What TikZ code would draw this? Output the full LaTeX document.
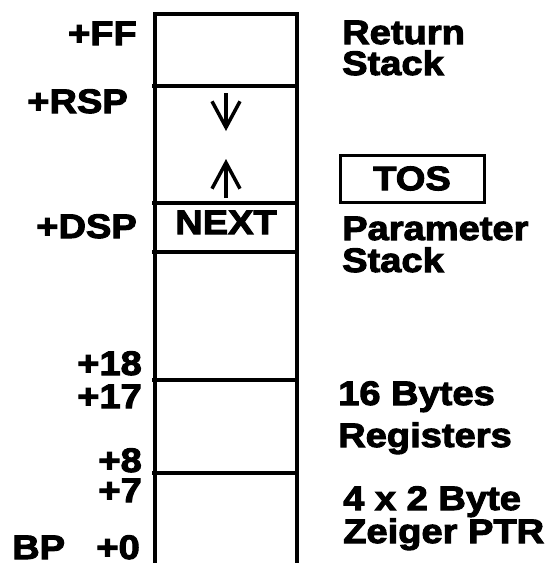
\documentclass[tikz,border=0pt]{standalone}
\usepackage{fontspec}
\newfontfamily\memfont{Liberation Sans}[FakeStretch=1.12,FakeBold=3]
\usetikzlibrary{arrows.meta}

\begin{document}
\begin{tikzpicture}[x=1pt,y=-1pt,
		lbl/.style={font=\memfont\bfseries\fontsize{34}{32}\selectfont,inner sep=0pt},
		frame/.style={line width=4pt},
		arr/.style={line width=3.5pt,-{Straight Barb[length=26pt,width=28pt,line width=3.5pt]}}]
	\useasboundingbox (0,0) rectangle (555,563);
	% memory column
	\draw[frame,line join=miter] (155,563) -- (155,14) -- (297,14) -- (297,563);
	\foreach \y in {86,203,252,380,473}{
		\draw[frame] (152,\y) -- (299,\y);}
	% offsets on the left
	\foreach \t/\x/\y/\n in {+FF/137/45/ff,+RSP/128/113/rsp,+DSP/137/238/dsp,+18/142/375/o18,+17/142/408/o17,+8/142/472/o8,+7/142/502/o7,+0/140/559/o0}{
		\node[lbl,anchor=base east] (\n) at (\x,\y) {\t};}
	\node[lbl,anchor=base west] (bp) at (12,559) {BP};
	% cell contents
	\node[lbl,anchor=base] (next) at (226,234) {NEXT};
	\coordinate (rs1) at (226,93);
	\coordinate (rs2) at (226,131);
	\coordinate (ps1) at (226,198);
	\coordinate (ps2) at (226,159);
	\draw[arr] (rs1) -- (rs2);
	\draw[arr] (ps1) -- (ps2);
	% descriptions on the right
	\foreach \t/\x/\y/\n in {Return/342/44/ret,Stack/342/75/rstk,Parameter/342/240/par,Stack/342/272/pstk,16 Bytes/338/405/byt,Registers/338/447/reg,4 x 2 Byte/343/510/ptr,Zeiger PTR/343/543/zgr}{
		\node[lbl,anchor=base west] (\n) at (\x,\y) {\t};}
	\node[lbl,draw,line width=3pt,minimum width=144pt,minimum height=47pt] (tos) at (412,178.5) {TOS};
\end{tikzpicture}
\end{document}
